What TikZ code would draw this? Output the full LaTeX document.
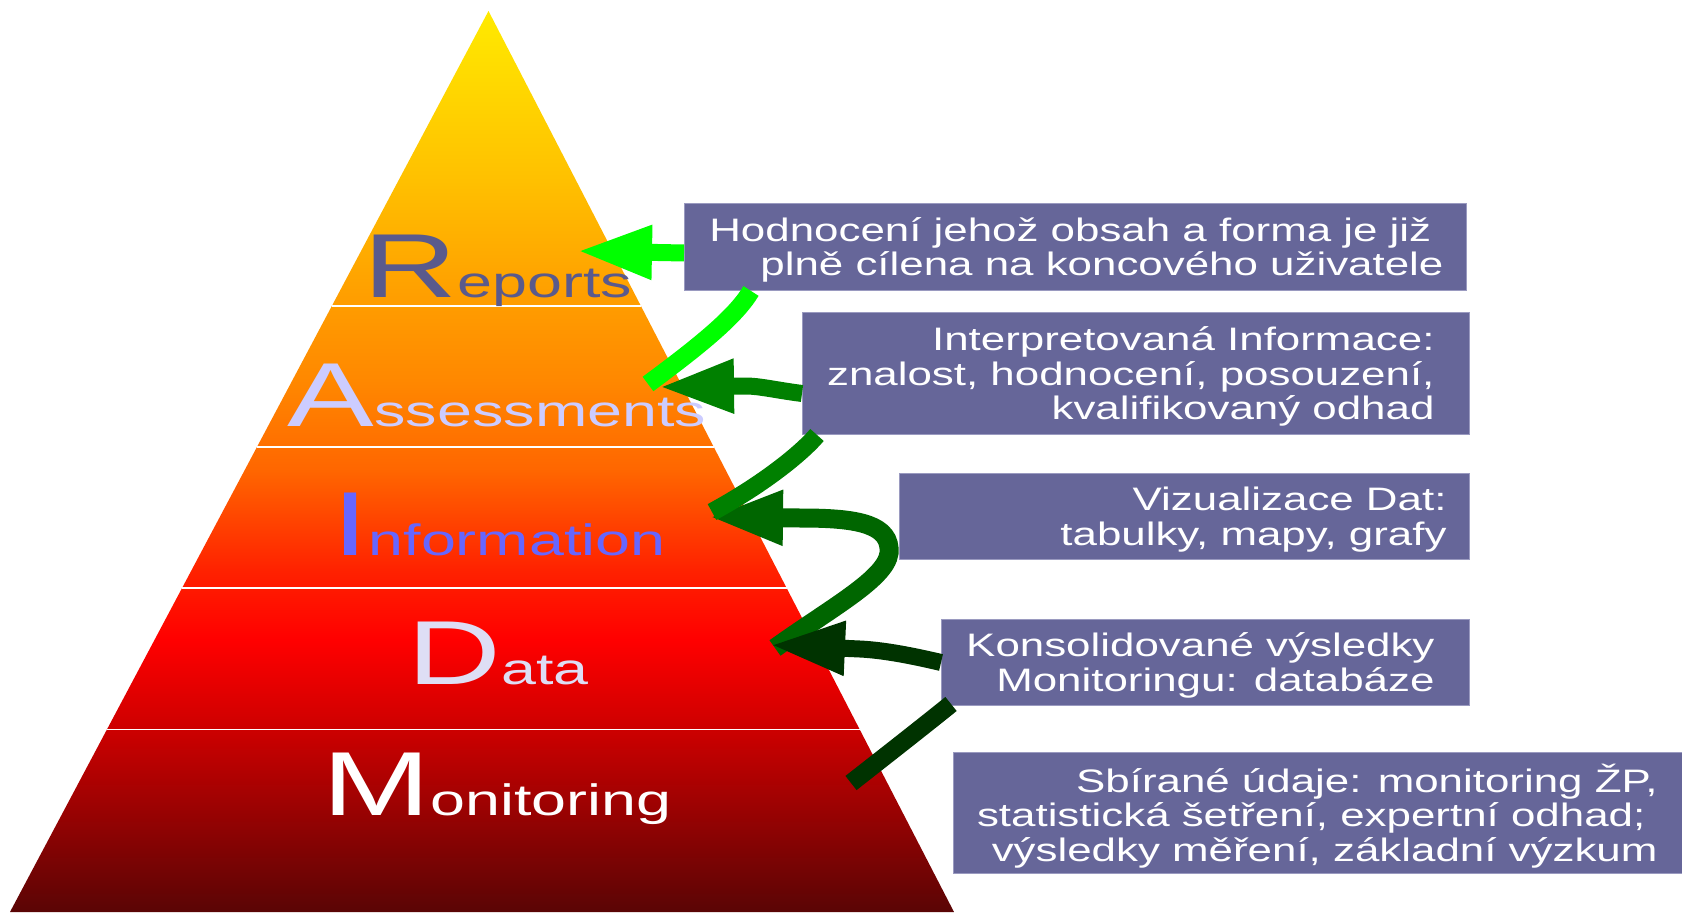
\documentclass[tikz,border=0pt]{standalone}
\usepackage{fontspec}
\setmainfont{Liberation Sans}
\newfontfamily\levelfont{Liberation Sans}[FakeStretch=1.43]
\newfontfamily\boxfont{Liberation Sans}[FakeStretch=1.35]
\usetikzlibrary{arrows.meta,calc}

\definecolor{boxfill}{HTML}{666699}
\definecolor{boxline}{HTML}{9A9AC0}
\definecolor{arrowA}{HTML}{00FF00}
\definecolor{arrowB}{HTML}{008000}
\definecolor{arrowC}{HTML}{006600}
\definecolor{arrowD}{HTML}{003300}
\definecolor{repcol}{HTML}{5A5A8C}
\definecolor{asscol}{HTML}{CCCCFF}
\definecolor{infcol}{HTML}{6666FF}
\definecolor{datcol}{HTML}{DEDEF5}
\definecolor{pyrA}{HTML}{FFEA00}
\definecolor{pyrB}{HTML}{FFC000}
\definecolor{pyrC}{HTML}{FFA000}
\definecolor{pyrD}{HTML}{FF8800}
\definecolor{pyrE}{HTML}{FF6600}
\definecolor{pyrF}{HTML}{FF2200}
\definecolor{pyrG}{HTML}{FF0000}
\definecolor{pyrH}{HTML}{CC0000}
\definecolor{pyrK}{HTML}{5A0505}

\pgfdeclareverticalshading{pyramidshade}{100bp}{color(0bp)=(pyrK); color(25bp)=(pyrK); color(35.1bp)=(pyrH); color(40.1bp)=(pyrG); color(44bp)=(pyrF); color(49.5bp)=(pyrE); color(54.5bp)=(pyrD); color(59.5bp)=(pyrC); color(65.6bp)=(pyrB); color(75bp)=(pyrA); color(100bp)=(pyrA)}

\newcommand{\levelname}[2]{{\fontsize{51.7}{52}\selectfont #1}{\fontsize{25}{26}\selectfont #2}}

\tikzset{
  infobox/.style={fill=boxfill, draw=boxline, line width=0.02cm, anchor=north west, inner sep=0pt},
  boxtext/.style={text=white, anchor=east, align=right, inner sep=0pt, font=\boxfont\fontsize{18.5}{19.6}\selectfont},
  level/.style={anchor=base, inner sep=0pt, font=\levelfont},
  feed/.style={line width=0.34cm, -{Triangle[length=1.5cm,width=1cm]}},
  link/.style={line width=0.36cm, line cap=butt},
  sepline/.style={white, line width=0.035cm}
}

\begin{document}
\begin{tikzpicture}[x=0.02cm,y=-0.02cm]
	\useasboundingbox (0,0) rectangle (1682,912);
	\coordinate (apex) at (488.5,11);
	\coordinate (baseL) at (10,912);
	\coordinate (baseR) at (954,912);
	\shade[shading=pyramidshade] (apex) -- (baseL) -- (baseR) -- cycle;
	\foreach \t in {0.3274,0.4839,0.6404,0.7975}
		\draw[sepline] ($(apex)!\t!(baseL)$) -- ($(apex)!\t!(baseR)$);

	\node[level, text=repcol] (reports) at (498,297) {\levelname{R}{eports}};
	\node[level, text=asscol] (assess) at (497,426) {\levelname{A}{ssessments}};
	\node[level, text=infcol] (inform) at (499,555) {\levelname{I}{nformation}};
	\node[level, text=datcol] (data) at (498,684) {\levelname{D}{ata}};
	\node[level, text=white] (monit) at (497,815) {\levelname{M}{onitoring}};

	\node[infobox, minimum width=15.64cm, minimum height=1.74cm] (hodnoceni) at (684,203) {};
	\node[boxtext] (hodnoceniText) at ($(hodnoceni.east)+(-23,3)$) {Hodnocení jehož obsah a forma je již\ \mbox{}\\plně cílena na koncového uživatele};
	\node[infobox, minimum width=13.34cm, minimum height=2.44cm] (interp) at (802,312) {};
	\node[boxtext] (interpText) at ($(interp.east)+(-35,3)$) {Interpretovaná Informace:\\znalost, hodnocení, posouzení,\\kvalifikovaný odhad};
	\node[infobox, minimum width=11.40cm, minimum height=1.72cm] (vizual) at (899,473) {};
	\node[boxtext] (vizualText) at ($(vizual.east)+(-23,3)$) {Vizualizace Dat:\\tabulky, mapy, grafy};
	\node[infobox, minimum width=10.56cm, minimum height=1.72cm] (konsol) at (941,619) {};
	\node[boxtext] (konsolText) at ($(konsol.east)+(-35,3)$) {Konsolidované výsledky\\Monitoringu: databáze};
	\node[infobox, minimum width=14.58cm, minimum height=2.42cm] (sbirane) at (953,752) {};
	\node[boxtext] (sbiraneText) at ($(sbirane.east)+(-25,3)$) {Sbírané údaje: monitoring ŽP,\\statistická šetření, expertní odhad;\ \mbox{}\\výsledky měření, základní výzkum};

	\coordinate (repTip) at (577,251);
	\coordinate (assTip) at (659,387);
	\coordinate (infTip) at (708,517);
	\coordinate (datTip) at (770,645);
	\coordinate (assEnd) at (648,384);
	\coordinate (infEnd) at (712,512);
	\coordinate (datEnd) at (775,648);
	\coordinate (monEnd) at (851,783);
	\coordinate (vizTurn) at ($(vizual.south west)+(-10,-12)$);

	\draw[feed, arrowA] ($(hodnoceni.west)+(0,6)$) -- (repTip);
	\draw[feed, arrowB] ($(interp.west)+(0,20)$) .. controls (775,390) and (760,386) .. (745,386) -- (assTip);
	\draw[feed, arrowC, line width=0.38cm] (datEnd) .. controls (835,605) and (893,575) .. (vizTurn) .. controls (887,522) and (850,518) .. (800,518) -- (infTip);
	\draw[feed, arrowD] (konsol.west) .. controls (905,654) and (880,650) .. (860,649) -- (datTip);
	\draw[link, arrowA] ($(hodnoceni.south west)+(67,0)$) .. controls (736,316) and (702,344) .. (assEnd);
	\draw[link, arrowB] ($(interp.south west)+(15,0)$) .. controls (800,455) and (760,486) .. (infEnd);
	\draw[link, arrowD] ($(konsol.south west)+(10,-2)$) .. controls (925,725) and (888,754) .. (monEnd);
\end{tikzpicture}
\end{document}
